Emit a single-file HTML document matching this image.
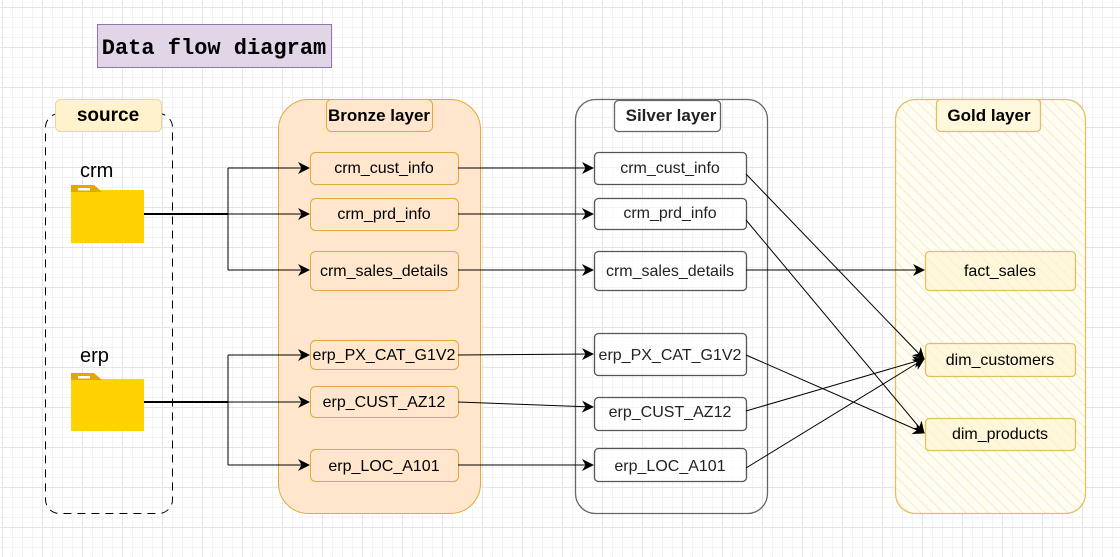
<!DOCTYPE html>
<html><head><style>
body{margin:0;width:1120px;height:557px;overflow:hidden;background:#fff;
background-image:linear-gradient(#e4e4e4 1px,transparent 1px),linear-gradient(90deg,#e4e4e4 1px,transparent 1px),linear-gradient(#f2f2f2 1px,transparent 1px),linear-gradient(90deg,#f2f2f2 1px,transparent 1px);
background-size:40px 40px,40px 40px,10px 10px,10px 10px;background-position:2px 7px;}
svg{position:absolute;left:0;top:0}
text{font-family:"Liberation Sans",sans-serif}
</style></head><body>
<svg width="1120" height="557" viewBox="0 0 1120 557">
<defs>
<marker id="a" markerWidth="12" markerHeight="12" refX="11" refY="6" orient="auto" markerUnits="userSpaceOnUse"><path d="M0,0 L12,6 L0,12 L3.5,6 z" fill="#000"/></marker>
<pattern id="h" width="8" height="8" patternUnits="userSpaceOnUse" patternTransform="rotate(-45)"><rect width="8" height="8" fill="#fffdf3"/><line x1="0" y1="0" x2="0" y2="8" stroke="#f7ecc4" stroke-width="2"/></pattern>
</defs>
<rect x="97.5" y="24.5" width="234" height="43" fill="#e1d5e7" stroke="#9673a6"/>
<text x="214" y="54" text-anchor="middle" style="font-family:'Liberation Mono',monospace" font-weight="bold" font-size="22">Data flow diagram</text>

<rect x="45.5" y="113.5" width="127" height="400" rx="14" fill="none" stroke="#000" stroke-dasharray="8 6"/>
<rect x="55.5" y="99.5" width="106" height="32" rx="5" fill="#fff2cc" stroke="#e8d69a"/>
<text x="108" y="121" text-anchor="middle" font-weight="bold" font-size="19">source</text>
<text x="80" y="177" font-size="20">crm</text>
<rect x="71" y="190" width="73" height="53" fill="#ffd200"/><path d="M71,185 h23 l8,7 h-31z" fill="#e0a800"/><rect x="78" y="188" width="12" height="2.5" fill="#fff"/>
<text x="80" y="362" font-size="20">erp</text>
<rect x="71" y="379" width="73" height="52" fill="#ffd200"/><path d="M71,373 h23 l8,7 h-31z" fill="#e0a800"/><rect x="78" y="376" width="12" height="2.5" fill="#fff"/>

<rect x="278.5" y="99.5" width="202" height="414" rx="30" fill="#ffe6cc" stroke="#e0a93a"/>
<rect x="326.5" y="99.5" width="106" height="32" rx="5" fill="#ffe6cc" stroke="#e0a93a"/>
<text x="379" y="121" text-anchor="middle" font-weight="bold" font-size="17">Bronze layer</text>
<g fill="#ffe6cc" stroke="#e0a93a">
<rect x="310.5" y="152.5" width="148" height="32" rx="5"/><rect x="310.5" y="198.5" width="148" height="32" rx="5"/><rect x="310.5" y="251.5" width="148" height="39" rx="5"/>
<rect x="310.5" y="340.5" width="148" height="29" rx="5"/><rect x="310.5" y="386.5" width="148" height="31" rx="5"/><rect x="310.5" y="449.5" width="148" height="32" rx="5"/>
</g>
<g font-size="16" text-anchor="middle">
<text x="384" y="173">crm_cust_info</text><text x="384" y="219">crm_prd_info</text><text x="384" y="276">crm_sales_details</text>
<text x="384" y="360">erp_PX_CAT_G1V2</text><text x="384" y="407">erp_CUST_AZ12</text><text x="384" y="471">erp_LOC_A101</text>
</g>

<rect x="575.5" y="99.5" width="192" height="414" rx="20" fill="none" stroke="#666" stroke-width="1.3"/>
<rect x="614.5" y="100.5" width="106" height="31" rx="4" fill="#fff" stroke="#666" stroke-width="1.3"/>
<text x="671" y="121" text-anchor="middle" font-weight="bold" font-size="17" fill="#222">Silver layer</text>
<g fill="#fff" fill-opacity="0.6" stroke="#555" stroke-width="1.3">
<rect x="594.5" y="152.5" width="152" height="32" rx="4"/><rect x="594.5" y="198.5" width="152" height="31" rx="4"/><rect x="594.5" y="251.5" width="152" height="39" rx="4"/>
<rect x="594.5" y="333.5" width="152" height="42" rx="4"/><rect x="594.5" y="397.5" width="152" height="33" rx="4"/><rect x="594.5" y="448.5" width="152" height="33" rx="4"/>
</g>
<g font-size="16" text-anchor="middle" fill="#222">
<text x="670" y="173">crm_cust_info</text><text x="670" y="218">crm_prd_info</text><text x="670" y="276">crm_sales_details</text>
<text x="670" y="360">erp_PX_CAT_G1V2</text><text x="670" y="417">erp_CUST_AZ12</text><text x="670" y="471">erp_LOC_A101</text>
</g>

<rect x="895.5" y="99.5" width="190" height="414" rx="20" fill="url(#h)" stroke="#e0c060" stroke-width="1.3"/>
<rect x="936.5" y="99.5" width="104" height="32" rx="4" fill="#fff8dd" stroke="#e0c060" stroke-width="1.3"/>
<text x="989" y="121" text-anchor="middle" font-weight="bold" font-size="17">Gold layer</text>
<g fill="#fff4cc" fill-opacity="0.6" stroke="#e0c060" stroke-width="1.3">
<rect x="925.5" y="251.5" width="150" height="39" rx="4"/><rect x="925.5" y="343.5" width="150" height="33" rx="4"/><rect x="925.5" y="418.5" width="150" height="32" rx="4"/>
</g>
<g font-size="16" text-anchor="middle">
<text x="1000" y="276">fact_sales</text><text x="1000" y="365">dim_customers</text><text x="1000" y="439">dim_products</text>
</g>

<g stroke="#000" fill="none" stroke-width="1">
<path d="M144,214 H228" stroke-width="2"/>
<path d="M228,168 V270"/>
<path d="M228,168 H309" marker-end="url(#a)"/><path d="M228,214 H309" marker-end="url(#a)"/><path d="M228,270 H309" marker-end="url(#a)"/>
<path d="M144,402 H228" stroke-width="2"/>
<path d="M228,355 V465"/>
<path d="M228,355 H309" marker-end="url(#a)"/><path d="M228,402 H309" marker-end="url(#a)"/><path d="M228,465 H309" marker-end="url(#a)"/>
<path d="M458,168 H593" marker-end="url(#a)"/><path d="M458,214 H593" marker-end="url(#a)"/><path d="M458,270 H593" marker-end="url(#a)"/>
<path d="M458,355 L593,354" marker-end="url(#a)"/><path d="M458,402 L593,407" marker-end="url(#a)"/><path d="M458,465 H593" marker-end="url(#a)"/>
<path d="M746,270 H924" marker-end="url(#a)"/>
<path d="M746,174 L924,359" marker-end="url(#a)"/>
<path d="M746,220 L924,433" marker-end="url(#a)"/>
<path d="M746,355 L924,433" marker-end="url(#a)"/>
<path d="M746,411 L924,359" marker-end="url(#a)"/>
<path d="M746,468 L924,359" marker-end="url(#a)"/>
</g>
</svg>
</body></html>
